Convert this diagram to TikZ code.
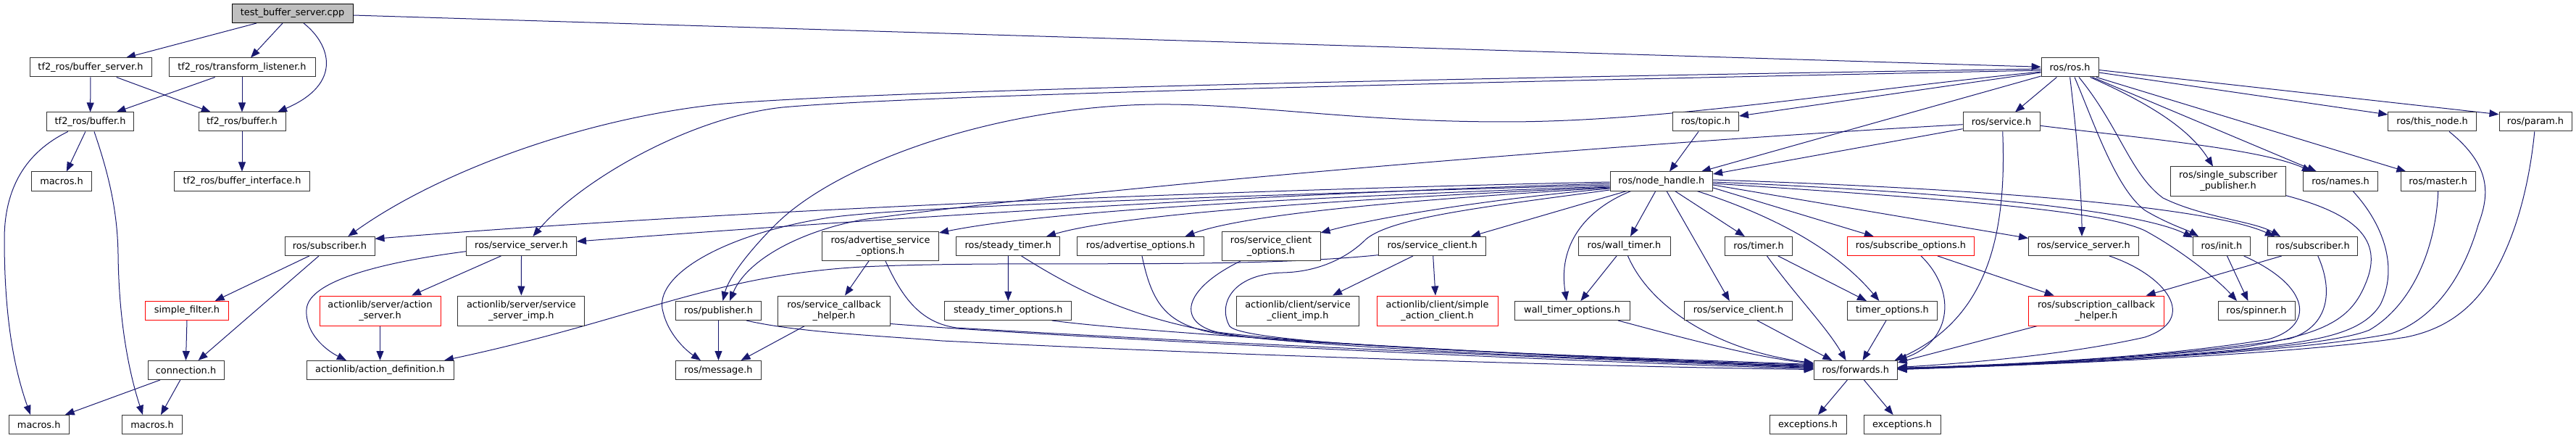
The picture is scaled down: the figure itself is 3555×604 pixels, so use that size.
\documentclass[tikz,border=0pt]{standalone}
\usepackage{fontspec}
\setmainfont{DejaVu Sans}
\usetikzlibrary{arrows.meta}
\definecolor{edgec}{HTML}{191970}
\definecolor{boxc}{HTML}{333333}
\definecolor{rootc}{HTML}{BFBFBF}
\newcommand\nodefont{\fontsize{12.9}{15}\selectfont}
\pgfdeclarelayer{bg}
\pgfsetlayers{bg,main}
\tikzset{
  box/.style={draw=boxc, line width=1pt, fill=white, inner sep=0pt, minimum height=26pt, align=center, font=\nodefont},
  two/.style={minimum height=41pt},
  redbox/.style={draw=red},
  rootbox/.style={fill=rootc, draw=black},
  e/.style={draw=edgec, line width=1pt, -{Triangle[length=13pt,width=10pt]}}
}
\begin{document}
\begin{tikzpicture}[x=1pt,y=-1pt]
\useasboundingbox (0,0) rectangle (3555,604);
% row 0-2 (tf2)
\node[box,rootbox,minimum width=167pt] (root) at (403.5,18.5) {test\_buffer\_server.cpp};
\node[box,minimum width=168pt] (bsrv) at (125,93) {tf2\_ros/buffer\_server.h};
\node[box,minimum width=202pt] (tlis) at (334,93) {tf2\_ros/transform\_listener.h};
\node[box,minimum width=120pt] (bufL) at (124.6,168) {tf2\_ros/buffer.h};
\node[box,minimum width=120pt] (bufR) at (334,168) {tf2\_ros/buffer.h};
\node[box,minimum width=83pt] (macU) at (85,250) {macros.h};
\node[box,minimum width=187pt] (bint) at (334,250) {tf2\_ros/buffer\_interface.h};
% ros upper
\node[box,minimum width=79pt] (rosh) at (2856.6,93) {ros/ros.h};
\node[box,minimum width=91pt] (topic) at (2354,168) {ros/topic.h};
\node[box,minimum width=106pt] (service) at (2762,168) {ros/service.h};
\node[box,minimum width=121.5pt] (thisn) at (3356.5,168) {ros/this\_node.h};
\node[box,minimum width=100pt] (param) at (3499,168) {ros/param.h};
\node[box,minimum width=141.6pt] (nh) at (2292.8,250) {ros/node\_handle.h};
\node[box,minimum width=158.6pt,minimum height=40pt] (ssp) at (3075,250) {ros/single\_subscriber\\\_publisher.h};
\node[box,minimum width=102.6pt] (names) at (3230,250) {ros/names.h};
\node[box,minimum width=102.6pt] (master) at (3364.7,250) {ros/master.h};
% row 3
\node[box,minimum width=124pt] (subL) at (455,339.5) {ros/subscriber.h};
\node[box,minimum width=152pt] (ssrvL) at (719.5,339.5) {ros/service\_server.h};
\node[box,minimum width=161pt,minimum height=40pt] (aso) at (1215,339.5) {ros/advertise\_service\\\_options.h};
\node[box,minimum width=143pt] (stimer) at (1391.4,339.5) {ros/steady\_timer.h};
\node[box,minimum width=175pt] (aopt) at (1574,339.5) {ros/advertise\_options.h};
\node[box,minimum width=136pt,minimum height=40pt] (sco) at (1754,339.5) {ros/service\_client\\\_options.h};
\node[box,minimum width=148.5pt] (sclA) at (1976.7,339.5) {ros/service\_client.h};
\node[box,minimum width=127pt] (wtimer) at (2241.5,339.5) {ros/wall\_timer.h};
\node[box,minimum width=92.6pt] (timer) at (2427,339.5) {ros/timer.h};
\node[box,redbox,minimum width=175pt] (subopt) at (2637,339.5) {ros/subscribe\_options.h};
\node[box,minimum width=152pt] (ssrvR) at (2875.5,339.5) {ros/service\_server.h};
\node[box,minimum width=78.7pt] (init) at (3066,339.5) {ros/init.h};
\node[box,minimum width=124pt] (subR) at (3191.5,339.5) {ros/subscriber.h};
% row 4
\node[box,redbox,minimum width=115pt] (sfilt) at (258,428.5) {simple\_filter.h};
\node[box,redbox,two,minimum width=167pt] (asrv) at (524.5,428.5) {actionlib/server/action\\\_server.h};
\node[box,two,minimum width=175pt] (ssimp) at (719.4,428.5) {actionlib/server/service\\\_server\_imp.h};
\node[box,minimum width=118pt] (pub) at (991.5,428.5) {ros/publisher.h};
\node[box,two,minimum width=155pt] (sch) at (1151,428.5) {ros/service\_callback\\\_helper.h};
\node[box,minimum width=175pt] (stopt) at (1391.3,428.5) {steady\_timer\_options.h};
\node[box,two,minimum width=169pt] (scimp) at (1791,428.5) {actionlib/client/service\\\_client\_imp.h};
\node[box,redbox,two,minimum width=167pt] (sac) at (1983.5,428.5) {actionlib/client/simple\\\_action\_client.h};
\node[box,minimum width=159pt] (wtopt) at (2169.6,428.5) {wall\_timer\_options.h};
\node[box,minimum width=148.6pt] (sclB) at (2399,428.5) {ros/service\_client.h};
\node[box,minimum width=124pt] (topt) at (2611.4,428.5) {timer\_options.h};
\node[box,redbox,two,minimum width=187pt] (subcb) at (2893,428.5) {ros/subscription\_callback\\\_helper.h};
\node[box,minimum width=106pt] (spin) at (3114,428.5) {ros/spinner.h};
% row 5
\node[box,minimum width=105pt] (conn) at (256.5,510.5) {connection.h};
\node[box,minimum width=203pt] (adef) at (524.5,510.5) {actionlib/action\_definition.h};
\node[box,minimum width=118pt] (msg) at (991.5,510.5) {ros/message.h};
\node[box,minimum width=115pt] (fwd) at (2560.7,510.5) {ros/forwards.h};
% row 6
\node[box,minimum width=83pt] (macLL) at (53.7,585.5) {macros.h};
\node[box,minimum width=83pt] (macL2) at (210,585.5) {macros.h};
\node[box,minimum width=106pt] (exc1) at (2495,585.5) {exceptions.h};
\node[box,minimum width=106pt] (exc2) at (2625,585.5) {exceptions.h};

\begin{pgfonlayer}{bg}
% tf2 part
\draw[e] ([xshift=-49.5pt]root.south) -- ([xshift=49pt]bsrv.north);
\draw[e] ([xshift=-13.5pt]root.south) -- ([xshift=12pt]tlis.north);
\draw[e] ([xshift=15.5pt]root.south) .. controls (455,60) and (475,115) .. ([xshift=49pt]bufR.north);
\draw[e] ([yshift=-2.5pt]root.east) -- ([yshift=0.7pt]rosh.west);
\draw[e] (bsrv.south) -- (bufL.north);
\draw[e] ([xshift=35.7pt]bsrv.south) -- ([xshift=-43.2pt]bufR.north);
\draw[e] ([xshift=-37.4pt]tlis.south) -- ([xshift=36pt]bufL.north);
\draw[e] (tlis.south) -- (bufR.north);
\draw[e] ([xshift=-6.7pt]bufL.south) -- ([xshift=6.8pt]macU.north);
\draw[e] ([xshift=-30.8pt]bufL.south) .. controls (35,210) and (6,260) .. (6,330) .. controls (6,440) and (20,510) .. ([xshift=-11.7pt]macLL.north);
\draw[e] ([xshift=5.4pt]bufL.south) .. controls (150,240) and (162,290) .. (163,350) .. controls (164,450) and (180,520) .. ([xshift=-13pt]macL2.north);
\draw[e] (bufR.south) -- (bint.north);
% subscriber L group
\draw[e] ([xshift=-28.3pt]subL.south) -- ([xshift=38.6pt]sfilt.north);
\draw[e] ([xshift=-15pt]subL.south) -- ([xshift=17.1pt]conn.north);
\draw[e] (sfilt.south) -- (conn.north);
\draw[e] ([xshift=-35.5pt]conn.south) -- ([xshift=36pt]macLL.north);
\draw[e] ([xshift=-7.7pt]conn.south) -- ([xshift=12pt]macL2.north);
% action server group
\draw[e] (asrv.south) -- (adef.north);
\draw[e] ([yshift=-7.2pt]ssrvL.west) .. controls (540,360) and (425,385) .. (423,427) .. controls (421,460) and (450,483) .. ([xshift=-46.5pt]adef.north);
\draw[e] ([xshift=-28.1pt]ssrvL.south) -- ([xshift=43.5pt]asrv.north);
\draw[e] (ssrvL.south) -- (ssimp.north);
% ros.h
\draw[e] ([yshift=-2pt]rosh.west) .. controls (1800,111) and (1200,127) .. (1000,143) .. controls (800,163) and (600,240) .. ([xshift=25.3pt]subL.north);
\draw[e] ([yshift=-4pt]rosh.west) .. controls (1800,118) and (1250,133) .. (1080,148) .. controls (950,162) and (800,250) .. ([xshift=15.9pt]ssrvL.north);
\draw[e] ([yshift=-6pt]rosh.west) .. controls (2550,125) and (2300,168) .. (2076,168) .. controls (1850,168) and (1700,138) .. (1560,145) .. controls (1350,155) and (1150,230) .. (1070,310) .. controls (1030,350) and (1005,385) .. ([xshift=6pt]pub.north);
\draw[e] ([yshift=-7pt]rosh.west) -- ([yshift=8pt]topic.east);
\draw[e] ([yshift=-12pt]rosh.west) -- ([xshift=55.1pt]nh.north);
\draw[e] ([xshift=-18.2pt]rosh.south) -- ([xshift=19pt]service.north);
\draw[e] (rosh.south) .. controls (2868,200) and (2873,280) .. ([xshift=-2.5pt]ssrvR.north);
\draw[e] ([xshift=6.4pt]rosh.south) .. controls (2890,170) and (2920,260) .. (2960,290) .. controls (2990,308) and (3020,318) .. ([xshift=-32pt]init.north);
\draw[e] ([xshift=12.4pt]rosh.south) .. controls (2925,175) and (2940,240) .. (2985,273) .. controls (3040,300) and (3110,305) .. ([xshift=-44.5pt]subR.north);
\draw[e] ([xshift=28pt]rosh.south) .. controls (2960,140) and (3020,175) .. ([xshift=-21pt]ssp.north);
\draw[e] ([xshift=31pt]rosh.south) -- ([xshift=-33pt]names.north);
\draw[e] ([xshift=36.4pt]rosh.south) -- ([xshift=-44.3pt]master.north);
\draw[e] ([yshift=-7pt]rosh.east) -- ([yshift=10pt]thisn.west);
\draw[e] ([yshift=-3.5pt]rosh.east) -- ([yshift=10.3pt]param.west);
% topic, service
\draw[e] ([xshift=-10pt]topic.south) -- ([xshift=11.2pt]nh.north);
\draw[e] ([yshift=-9.7pt]service.west) -- ([yshift=10pt]nh.east);
\draw[e] ([yshift=-3.7pt]service.west) .. controls (2200,200) and (1500,260) .. (1190,303) .. controls (1100,320) and (1030,360) .. ([xshift=15.5pt]pub.north);
\draw[e] ([yshift=-5.3pt]service.east) .. controls (2950,190) and (3120,205) .. ([xshift=-40pt]names.north);
\draw[e] ([xshift=1.7pt]service.south) .. controls (2770,330) and (2740,440) .. ([xshift=-4pt]fwd.north east);
% node_handle
\draw[e] ([yshift=-1pt]nh.west) .. controls (1700,262) and (1000,290) .. ([yshift=10.2pt]subL.east);
\draw[e] ([yshift=-3pt]nh.west) .. controls (1700,268) and (1100,310) .. ([yshift=6.5pt]ssrvL.east);
\draw[e] ([yshift=-5pt]nh.west) .. controls (1700,270) and (1250,285) .. (1145,300) .. controls (1000,322) and (900,380) .. (915,430) .. controls (922,460) and (945,482) .. ([xshift=-24.5pt]msg.north);
\draw[e] ([yshift=-7pt]nh.west) .. controls (1800,272) and (1450,290) .. ([yshift=18.5pt]aso.east);
\draw[e] ([yshift=-8pt]nh.west) .. controls (1850,275) and (1550,295) .. ([xshift=52.6pt]stimer.north);
\draw[e] ([yshift=-9pt]nh.west) .. controls (1950,275) and (1720,295) .. ([xshift=61.4pt]aopt.north);
\draw[e] ([yshift=-10pt]nh.west) .. controls (2050,275) and (1900,300) .. ([yshift=18.5pt]sco.east);
\draw[e] ([yshift=-12pt]nh.west) .. controls (2050,285) and (1920,300) .. (1885,330) .. controls (1860,355) and (1820,375) .. (1770,376) .. controls (1700,378) and (1680,420) .. (1697,450) .. controls (1720,475) and (2100,488) .. ([yshift=8pt]fwd.west);
\draw[e] ([xshift=-48pt]nh.south) -- ([xshift=53.3pt]sclA.north);
\draw[e] ([xshift=-42pt]nh.south) .. controls (2185,290) and (2150,340) .. ([xshift=-7.6pt]wtopt.north);
\draw[e] ([xshift=-8pt]nh.south) -- ([xshift=8.5pt]wtimer.north);
\draw[e] ([xshift=7.2pt]nh.south) -- ([xshift=-12.2pt]sclB.north);
\draw[e] ([xshift=18.7pt]nh.south) -- ([xshift=-19.2pt]timer.north);
\draw[e] ([xshift=49.2pt]nh.south) .. controls (2440,295) and (2530,340) .. ([xshift=-18pt]topt.north);
\draw[e] ([yshift=-9pt]nh.east) -- ([xshift=-51.2pt]subopt.north);
\draw[e] ([yshift=-5pt]nh.east) -- ([yshift=11pt]ssrvR.west);
\draw[e] ([yshift=-1pt]nh.east) .. controls (2700,265) and (2950,290) .. ([yshift=12pt]init.west);
\draw[e] ([yshift=2pt]nh.east) .. controls (2800,262) and (3060,290) .. ([xshift=-52.5pt]subR.north);
\draw[e] ([yshift=-3pt]nh.east) .. controls (2700,275) and (2900,290) .. (2960,318) .. controls (3010,345) and (3060,385) .. ([xshift=-27pt]spin.north);
% sclA group
\draw[e] ([xshift=-26.7pt]sclA.south) -- ([xshift=48pt]scimp.north);
\draw[e] ([xshift=1pt]sclA.south) -- ([xshift=-2.5pt]sac.north);
\draw[e] ([yshift=-12.2pt]sclA.west) .. controls (1700,372) and (1400,358) .. (1190,368) .. controls (980,380) and (880,440) .. ([xshift=88.5pt]adef.north);
% row 3 -> row 4
\draw[e] ([xshift=-16pt]aso.south) -- ([xshift=15pt]sch.north);
\draw[e] (stimer.south) -- (stopt.north);
\draw[e] ([xshift=-10.5pt]wtimer.south) -- ([xshift=11.8pt]wtopt.north);
\draw[e] ([xshift=26.8pt]timer.south) -- ([xshift=-35.4pt]topt.north);
\draw[e] ([xshift=37pt]subopt.south) -- ([xshift=-58.4pt]subcb.north);
\draw[e] ([xshift=-42.8pt]subR.south) -- ([xshift=68.6pt]subcb.north);
\draw[e] ([xshift=7.5pt]init.south) -- ([xshift=-11.6pt]spin.north);
% message
\draw[e] (pub.south) -- (msg.north);
\draw[e] ([xshift=-40.5pt]sch.south) -- ([xshift=31pt]msg.north);
% forwards, left bundle
\draw[e] ([xshift=5pt]wtimer.south) .. controls (2280,430) and (2380,485) .. ([yshift=10pt]fwd.west);
\draw[e] ([xshift=63.4pt]wtopt.south) .. controls (2330,468) and (2420,492) .. ([yshift=9pt]fwd.west);
\draw[e] ([xshift=-42pt]sco.south) .. controls (1630,400) and (1625,445) .. (1680,458) .. controls (1850,480) and (2300,497) .. ([yshift=7pt]fwd.west);
\draw[e] ([xshift=2pt]aopt.south) .. controls (1590,420) and (1610,448) .. (1680,460) .. controls (1850,483) and (2300,499) .. ([yshift=6pt]fwd.west);
\draw[e] ([xshift=18.2pt]stimer.south) .. controls (1500,410) and (1600,458) .. (1780,470) .. controls (2100,488) and (2350,500) .. ([yshift=5pt]fwd.west);
\draw[e] ([xshift=60.4pt]stopt.south) .. controls (1600,462) and (2200,495) .. ([yshift=4pt]fwd.west);
\draw[e] ([xshift=7pt]aso.south) .. controls (1245,410) and (1270,445) .. (1320,452) .. controls (1700,475) and (2250,498) .. ([yshift=3pt]fwd.west);
\draw[e] ([yshift=-18pt]sch.east) .. controls (1500,468) and (2200,500) .. ([yshift=2pt]fwd.west);
\draw[e] ([xshift=38.5pt]pub.south) .. controls (1100,458) and (1200,462) .. (1300,470) .. controls (1800,495) and (2300,507) .. ([yshift=1pt]fwd.west);
% forwards, top
\draw[e] ([xshift=14pt]subopt.south) .. controls (2700,400) and (2695,470) .. (fwd.north east);
\draw[e] ([xshift=-81.4pt]subcb.south) -- ([yshift=-3pt]fwd.north east);
\draw[e] ([xshift=11.5pt]timer.south) .. controls (2480,410) and (2520,450) .. ([xshift=-13.2pt]fwd.north);
\draw[e] ([xshift=-8.4pt]topt.south) -- ([xshift=9.8pt]fwd.north);
\draw[e] ([xshift=26pt]sclB.south) -- ([xshift=-32.3pt]fwd.north);
% forwards, right bundle
\draw[e] ([xshift=35.5pt]ssrvR.south) .. controls (2990,380) and (3035,440) .. (2960,465) .. controls (2850,490) and (2700,502) .. ([yshift=4pt]fwd.east);
\draw[e] ([xshift=30.6pt]init.south) .. controls (3190,395) and (3195,450) .. (3130,468) .. controls (2950,498) and (2700,505) .. ([yshift=3pt]fwd.east);
\draw[e] ([xshift=7.3pt]subR.south) .. controls (3220,400) and (3215,450) .. (3160,467) .. controls (3000,493) and (2750,505) .. ([yshift=3pt]fwd.east);
\draw[e] ([yshift=-19.7pt]ssp.east) .. controls (3250,295) and (3290,330) .. (3265,390) .. controls (3245,440) and (3210,460) .. (3100,478) .. controls (2900,500) and (2700,506) .. ([yshift=2pt]fwd.east);
\draw[e] ([xshift=17pt]names.south) .. controls (3290,310) and (3310,370) .. (3285,420) .. controls (3260,460) and (3200,470) .. (3100,481) .. controls (2900,501) and (2700,506) .. ([yshift=2pt]fwd.east);
\draw[e] (master.south) .. controls (3362,340) and (3330,420) .. (3270,455) .. controls (3200,485) and (2800,505) .. ([yshift=2pt]fwd.east);
\draw[e] ([xshift=23.5pt]thisn.south) .. controls (3440,230) and (3435,270) .. (3420,310) .. controls (3400,380) and (3360,440) .. (3300,460) .. controls (3150,490) and (2750,505) .. ([yshift=1pt]fwd.east);
\draw[e] ([xshift=-1.2pt]param.south) .. controls (3490,260) and (3470,330) .. (3440,380) .. controls (3410,430) and (3370,455) .. (3320,465) .. controls (3150,492) and (2750,505) .. ([yshift=1pt]fwd.east);
% exceptions
\draw[e] ([xshift=-11.3pt]fwd.south) -- ([xshift=14pt]exc1.north);
\draw[e] ([xshift=11.7pt]fwd.south) -- ([xshift=-12.4pt]exc2.north);
\end{pgfonlayer}
\end{tikzpicture}
\end{document}
